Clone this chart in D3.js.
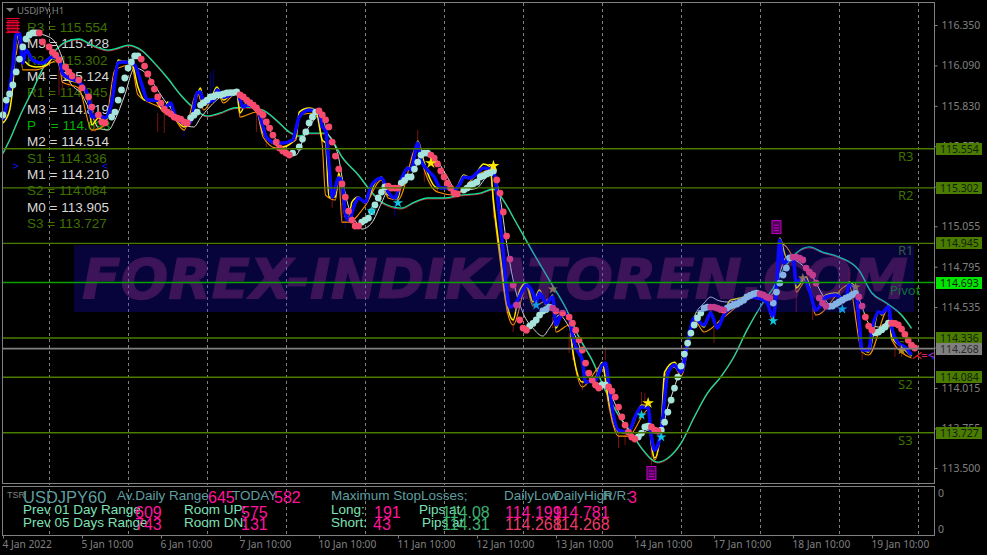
<!DOCTYPE html>
<html><head><meta charset="utf-8">
<script src="https://cdn.jsdelivr.net/npm/d3@7"></script>
<style>
html,body{margin:0;padding:0;background:#000;overflow:hidden}
svg{display:block}
text{font-family:"Liberation Sans",Arial,sans-serif}
.tick text,.ui{font-family:"Noto Sans","DejaVu Sans",sans-serif}
</style></head><body><svg id="c" width="987" height="555"></svg>
<script>
// ---------- data: [hourly bar number, price] ----------
const priceTicks=[116.35,116.09,115.83,115.57,115.31,115.055,114.795,114.535,114.275,114.015,113.755,113.5];
const timeTickBars=[0,24,48,72,96,120,144,168,192,216,240,264];
const timeTickLabels=["4 Jan 2022","5 Jan 10:00","6 Jan 10:00","7 Jan 10:00","10 Jan 10:00","11 Jan 10:00","12 Jan 10:00","13 Jan 10:00","14 Jan 10:00","17 Jan 10:00","18 Jan 10:00","19 Jan 10:00"];
const gridBars=[14,38,62,86,110,134,158,182,206,230,254,278];
const levelNames=["R3","R2","R1","Pivot","S1","S2","S3"];
const levelValues=[115.554,115.302,114.945,114.693,114.336,114.084,113.727];
const lastPrice=114.268;
const listNames=["R3","M5","R2","M4","R1","M3","P ","M2","S1","M1","S2","M0","S3"];
const listValues=["115.554","115.428","115.302","115.124","114.945","114.819","114.693","114.514","114.336","114.210","114.084","113.905","113.727"];

const blue=[[0,115.739],[1,115.822],[2,115.932],[3,116.08],[4,116.286],[5,116.299],[6,116.106],[7,116.189],[9,116.125],[12,116.106],[15,116.144],[17,116.144],[18,116.041],[20,116.009],[23,115.983],[26,115.887],[27,115.758],[29,115.771],[31,115.752],[33,115.848],[35,116.106],[36,116.112],[39,116.106],[40,116.093],[42,115.977],[44,115.867],[47,115.867],[49,115.816],[51,115.848],[52,115.784],[55,115.72],[57,115.726],[59,115.913],[60,115.919],[61,115.848],[64,115.867],[65,115.932],[67,115.887],[69,115.9],[71,115.919],[73,115.822],[74,115.835],[77,115.816],[79,115.694],[80,115.629],[83,115.591],[85,115.591],[88,115.61],[90,115.758],[93,115.803],[96,115.79],[97,115.694],[98,115.674],[99,115.462],[100,115.243],[102,115.366],[103,115.333],[104,115.14],[105,115.095],[107,115.205],[108,115.237],[110,115.211],[112,115.321],[115,115.366],[117,115.275],[119,115.237],[121,115.353],[123,115.43],[124,115.417],[126,115.591],[127,115.481],[129,115.417],[131,115.372],[133,115.301],[135,115.301],[137,115.288],[139,115.333],[140,115.372],[142,115.366],[144,115.398],[146,115.43],[149,115.417],[150,115.288],[151,115.095],[152,114.883],[153,114.645],[154,114.535],[156,114.568],[158,114.645],[159,114.677],[161,114.626],[162,114.568],[163,114.626],[165,114.561],[167,114.6],[168,114.42],[170,114.497],[172,114.471],[173,114.355],[174,114.278],[176,114.194],[177,114.053],[180,114.066],[182,114.162],[183,114.175],[184,114.046],[185,113.892],[187,113.744],[190,113.731],[192,113.828],[194,113.892],[196,113.886],[197,113.699],[198,113.615],[200,113.744],[202,114.111],[204,114.162],[206,114.117],[208,114.304],[210,114.465],[213,114.42],[215,114.497],[217,114.4],[219,114.484],[221,114.535],[224,114.58],[228,114.6],[232,114.568],[234,114.471],[235,114.664],[236,114.967],[237,114.819],[240,114.857],[241,114.69],[243,114.722],[245,114.645],[247,114.516],[250,114.6],[253,114.613],[256,114.58],[257,114.677],[259,114.645],[260,114.471],[261,114.259],[263,114.259],[264,114.387],[266,114.503],[267,114.497],[269,114.535],[270,114.407],[272,114.304],[274,114.278],[276,114.227]];

const yellow=[[0,115.72],[2,115.8],[3,115.96],[4,116.24],[5,116.3],[6,116.125],[7,116.11],[8,116.09],[10,116.08],[13,116.09],[16,116.157],[18,116.03],[20,115.996],[23,115.977],[26,115.848],[27,115.707],[29,115.752],[31,115.726],[33,115.867],[35,116.125],[36,116.118],[39,116.112],[41,115.951],[43,115.867],[46,115.867],[49,115.79],[50,115.855],[52,115.771],[55,115.694],[57,115.739],[60,115.945],[61,115.835],[63,115.867],[65,115.951],[67,115.867],[69,115.9],[71,115.932],[72,115.784],[74,115.848],[77,115.816],[79,115.655],[83,115.578],[85,115.565],[89,115.629],[90,115.79],[93,115.816],[95,115.803],[97,115.61],[98,115.591],[99,115.243],[101,115.243],[102,115.398],[103,115.288],[104,115.115],[105,115.108],[106,115.211],[108,115.243],[110,115.205],[113,115.333],[115,115.372],[117,115.256],[120,115.237],[121,115.34],[123,115.436],[124,115.43],[126,115.604],[128,115.462],[129,115.398],[132,115.301],[135,115.301],[137,115.275],[140,115.385],[142,115.366],[144,115.404],[146,115.456],[148,115.436],[149,115.224],[151,114.883],[153,114.568],[155,114.452],[157,114.645],[159,114.69],[161,114.568],[163,114.645],[165,114.548],[167,114.613],[168,114.4],[170,114.497],[172,114.452],[173,114.272],[176,114.053],[180,114.085],[182,114.181],[184,113.937],[187,113.731],[190,113.725],[194,113.905],[196,113.892],[197,113.66],[198,113.564],[200,113.789],[201,114.117],[204,114.181],[206,114.117],[208,114.31],[210,114.471],[213,114.407],[215,114.503],[217,114.4],[219,114.497],[221,114.58],[224,114.593],[228,114.613],[232,114.58],[234,114.465],[235,114.709],[236,114.98],[238,114.857],[240,114.87],[241,114.658],[244,114.729],[247,114.516],[250,114.613],[253,114.626],[256,114.58],[257,114.696],[259,114.658],[261,114.272],[263,114.246],[266,114.503],[267,114.484],[269,114.542],[270,114.342],[273,114.278],[276,114.22]];

const orange=[[4,116.157],[5,116.254],[6,116.061],[10,116.061],[17,116.125],[18,115.983],[23,115.945],[27,115.674],[31,115.707],[34,116.061],[39,116.093],[41,115.9],[48,115.816],[52,115.752],[55,115.674],[59,115.919],[61,115.803],[65,115.919],[67,115.848],[71,115.913],[72,115.758],[77,115.79],[79,115.629],[83,115.559],[89,115.61],[90,115.771],[95,115.784],[97,115.578],[98,115.256],[101,115.224],[102,115.366],[103,115.082],[105,115.082],[110,115.185],[115,115.353],[117,115.237],[120,115.224],[126,115.578],[128,115.417],[132,115.275],[137,115.256],[144,115.385],[148,115.417],[149,115.192],[151,114.838],[153,114.529],[155,114.42],[159,114.664],[161,114.542],[167,114.593],[168,114.375],[172,114.42],[173,114.259],[176,114.021],[182,114.162],[184,113.905],[187,113.705],[190,113.705],[196,113.873],[197,113.635],[198,113.551],[200,113.757],[201,114.091],[204,114.149],[206,114.091],[210,114.452],[213,114.375],[219,114.471],[228,114.593],[232,114.561],[234,114.439],[236,114.947],[240,114.851],[241,114.632],[244,114.709],[247,114.484],[257,114.677],[261,114.246],[263,114.227],[269,114.523],[270,114.323],[276,114.207]];

const whiteLine=[[9,116.299],[14,116.273],[16,116.234],[18,116.138],[20,115.996],[24,115.9],[27,115.771],[29,115.687],[32,115.674],[34,115.739],[37,115.9],[40,116.073],[43,116.048],[46,115.964],[49,115.867],[52,115.79],[55,115.707],[58,115.694],[60,115.752],[70,115.919],[75,115.835],[80,115.707],[83,115.61],[86,115.513],[89,115.513],[92,115.662],[94,115.726],[97,115.784],[98,115.687],[100,115.61],[102,115.494],[103,115.372],[105,115.179],[108,115.063],[109,115.037],[112,115.076],[115,115.205],[117,115.288],[119,115.301],[125,115.417],[127,115.513],[131,115.494],[135,115.372],[138,115.275],[141,115.288],[144,115.301],[147,115.372],[149,115.385],[151,115.243],[153,114.947],[155,114.709],[158,114.497],[161,114.4],[164,114.349],[166,114.4],[169,114.484],[172,114.407],[175,114.291],[177,114.111],[180,114.053],[183,114.021],[190,113.744],[193,113.693],[196,113.744],[198,113.725],[200,113.744],[202,113.892],[205,114.085],[208,114.304],[210,114.471],[213,114.561],[215,114.6],[217,114.58],[220,114.568],[224,114.58],[229,114.6],[232,114.593],[234,114.626],[236,114.754],[238,114.857],[242,114.819],[246,114.729],[249,114.613],[252,114.535],[256,114.58],[259,114.632],[261,114.535],[263,114.432],[266,114.407],[269,114.439],[272,114.407],[276,114.304]];

const movingAvg=[[0,115.526],[2,115.61],[5,115.758],[9,115.932],[13,116.106],[16,116.189],[19,116.241],[23,116.26],[27,116.221],[32,116.189],[35,116.202],[38,116.221],[42,116.189],[46,116.106],[50,116.009],[54,115.9],[58,115.816],[62,115.765],[66,115.784],[70,115.816],[74,115.822],[79,115.803],[83,115.739],[87,115.662],[90,115.636],[93,115.655],[98,115.655],[100,115.61],[103,115.501],[108,115.385],[111,115.301],[115,115.211],[121,115.172],[125,115.211],[129,115.237],[134,115.237],[139,115.256],[145,115.269],[149,115.295],[152,115.224],[156,115.076],[161,114.889],[166,114.709],[171,114.529],[175,114.342],[179,114.194],[183,114.001],[187,113.84],[191,113.725],[194,113.628],[199,113.538],[202,113.564],[206,113.66],[210,113.828],[214,113.982],[218,114.085],[222,114.214],[226,114.387],[231,114.568],[234,114.658],[237,114.774],[241,114.883],[245,114.922],[249,114.889],[254,114.857],[260,114.774],[264,114.626],[268,114.568],[273,114.484],[276,114.4]];

const riseDots=[[0,115.771],[1,115.867],[2,115.906],[3,115.964],[4,116.048],[5,116.131],[6,116.209],[7,116.26],[8,116.286],[9,116.299],[10,116.299],
[33,115.758],[34,115.79],[35,115.867],[36,115.932],[37,116.009],[38,116.073],[39,116.112],[40,116.151],[41,116.151],
[57,115.752],[58,115.77],[59,115.79],[60,115.835],[61,115.85],[62,115.867],[63,115.887],[64,115.89],[65,115.9],[66,115.9],[67,115.906],[68,115.913],[69,115.915],[70,115.915],[71,115.919],
[88,115.526],[90,115.565],[91,115.616],[92,115.662],[93,115.72],[94,115.758],[95,115.79],
[109,115.082],[110,115.095],[111,115.108],[112,115.15],[113,115.192],[114,115.237],[115,115.275],[116,115.308],
[121,115.333],[122,115.35],[123,115.372],[124,115.372],[125,115.423],[126,115.468],[127,115.513],[128,115.526],[129,115.526],
[140,115.288],[141,115.301],[142,115.321],[143,115.33],[144,115.34],[145,115.372],[146,115.38],[147,115.392],[148,115.4],[149,115.411],
[160,114.413],[161,114.43],[162,114.452],[163,114.484],[164,114.51],[165,114.52],[166,114.535],
[182,114.034],[183,114.034],
[193,113.7],[194,113.725],[195,113.764],[196,113.77],
[200,113.744],[201,113.795],[202,113.86],[203,113.937],[204,114.014],[205,114.085],[206,114.156],[207,114.233],[208,114.304],[209,114.368],[210,114.42],[211,114.465],[212,114.497],[213,114.529],[214,114.535],
[220,114.529],[221,114.54],[222,114.548],[223,114.555],[224,114.568],[225,114.58],[226,114.6],[227,114.61],[228,114.62],[229,114.625],
[234,114.561],[235,114.632],[236,114.69],[237,114.741],[238,114.786],[239,114.851],
[251,114.54],[252,114.542],[253,114.555],[254,114.568],[255,114.58],[256,114.593],[257,114.6],[258,114.615],[259,114.625],
[265,114.37],[266,114.375],[267,114.39],[268,114.407],[269,114.432]];

const fallDots=[[11,116.299],[12,116.241],[14,116.209],[15,116.176],[16,116.157],[17,116.125],[19,116.08],[20,116.048],[21,116.022],[23,115.996],[24,115.945],[26,115.887],[27,115.822],[29,115.771],[30,115.726],[31,115.72],
[42,116.131],[43,116.086],[44,116.035],[45,115.983],[46,115.938],[47,115.887],[48,115.848],[49,115.809],[50,115.79],[51,115.777],[52,115.758],[53,115.75],[54,115.745],[55,115.726],[56,115.72],
[72,115.9],[73,115.887],[74,115.867],[75,115.85],[76,115.835],[77,115.816],[78,115.79],[79,115.771],[80,115.726],[81,115.687],[82,115.642],[83,115.597],[84,115.559],[85,115.54],[86,115.526],[87,115.513],
[96,115.797],[97,115.771],[98,115.739],[99,115.694],[100,115.597],[101,115.507],[102,115.423],[103,115.327],[104,115.243],[105,115.153],[106,115.095],[107,115.057],[108,115.057],
[117,115.314],[118,115.301],[119,115.301],[120,115.301],
[130,115.513],[131,115.494],[132,115.456],[133,115.411],[134,115.372],[135,115.333],[136,115.301],[137,115.269],[138,115.263],
[150,115.353],[151,115.269],[152,115.147],[153,114.992],[154,114.844],[155,114.677],[156,114.548],[157,114.452],[158,114.4],[159,114.387],
[167,114.529],[168,114.51],[170,114.497],[172,114.471],[173,114.432],[174,114.387],[175,114.323],[176,114.259],[177,114.175],[178,114.111],[179,114.066],[180,114.034],[181,114.014],
[184,114.021],[185,113.995],[186,113.956],[187,113.892],[188,113.828],[189,113.776],[190,113.731],[191,113.699],[192,113.686],
[197,113.764],[198,113.744],[199,113.738],
[215,114.535],[216,114.535],[217,114.529],[218,114.52],[219,114.516],
[230,114.62],[231,114.613],[232,114.6],[233,114.593],
[240,114.857],[241,114.857],[242,114.85],[243,114.838],[244,114.786],[245,114.76],[246,114.741],[247,114.69],[248,114.593],[249,114.561],[250,114.542],
[260,114.6],[261,114.542],[262,114.471],[263,114.413],[264,114.387],
[270,114.432],[271,114.43],[272,114.42],[273,114.394],[274,114.36],[275,114.323],[276,114.291],[277,114.272]];

// [bar, low, high]
const redWicks=[[17,115.9,116.106],[18,115.932,116.061],[20,115.951,116.016],[27,115.662,115.867],[28,115.662,115.784],[47,115.662,115.784],[49,115.655,115.784],[72,115.752,115.816],[77,115.662,115.803],[79,115.655,115.758],[80,115.565,115.629],[84,115.533,115.61],[99,115.308,115.591],[100,115.173,115.308],[103,115.076,115.205],[126,115.565,115.674],[128,115.34,115.417],[132,115.269,115.353],[149,115.108,115.288],[151,114.838,114.947],[153,114.497,114.6],[155,114.375,114.471],[167,114.4,114.471],[172,114.239,114.368],[173,114.194,114.304],[176,114.001,114.066],[183,114.194,114.278],[185,113.789,113.892],[187,113.628,113.744],[189,113.647,113.725],[194,113.892,113.989],[195,113.886,113.982],[197,113.519,113.68],[216,114.304,114.4],[241,114.503,114.69],[246,114.452,114.535],[257,114.664,114.786],[259,114.471,114.516],[261,114.194,114.259],[269,114.4,114.516],[271,114.214,114.304],[273,114.214,114.278]];
const blueWicks=[[4,116.041,116.138],[55,115.629,115.72],[63,115.887,116.041],[64,115.951,116.061],[104,115.044,115.115],[119,115.115,115.205],[124,115.417,115.546],[200,113.68,113.808],[208,114.336,114.387]];

const brightStars=[[149,115.443],[196,113.918],[130,115.462]];
const dimStars=[[167,114.651],[243,114.722],[259,114.664],[273,114.259]];
const cyanStars=[[234,114.446],[255,114.522],[194,113.84],[200,113.699],[112,115.153],[120,115.205],[162,114.548]];
const docIcons=[[235,115.05],[197,113.468]];
const stackedIcon=[3,116.34];

const dailyRange="645",todayRange="582",prev01="609",prev05="743",roomUp="575",roomDn="131";
const stopLong="191",stopShort="43",pipsLong="114.08",pipsShort="114.31";
const dayLow1="114.199",dayHigh1="114.781",dayLow2="114.268",dayHigh2="114.268",rr="3";

// ---------- scales ----------
const svg=d3.select("#c");
const x=d3.scaleLinear().domain([0,283]).range([3,934.5]);
const y=d3.scaleLinear().domain([113.5,116.35]).range([468,25]);
const grey="#808080",olive="#4a7c00";

// watermark lettering (tinted by the translucent band drawn after the lines)
svg.append("text").text("FOREX-INDIKATOREN.COM").attr("x",82).attr("y",298)
  .style("font-family","'DejaVu Sans',sans-serif").attr("font-size",56).attr("font-weight","bold").attr("font-style","italic")
  .attr("textLength",826).attr("lengthAdjust","spacingAndGlyphs").attr("fill","#481528")
  .attr("stroke","#481528").attr("stroke-width",1.2);

// grid
svg.append("g").selectAll("line").data(gridBars).join("line")
  .attr("x1",d=>Math.round(x(d))+.5).attr("x2",d=>Math.round(x(d))+.5).attr("y1",3).attr("y2",535)
  .attr("stroke",grey).attr("stroke-dasharray","3,3");

// left list
const list=svg.append("g");
listNames.forEach((n,i)=>{
  const c=n[0]==="M"?"#d8d8d8":n[0]==="P"?"#00b400":"#3f7000";
  list.append("text").attr("x",27).attr("y",32+i*16.33).attr("font-size",13.5).attr("fill",c)
    .style("white-space","pre").text(n+(n==="P "?"  ":"")+" = "+listValues[i]);
});

// level names at right
const nameX={R3:898,R2:898,R1:898,Pivot:890,S1:898,S2:898,S3:898};
levelNames.forEach((n,i)=>{
  svg.append("text").text(n).attr("x",nameX[n]).attr("y",y(levelValues[i])+12).attr("font-size",13)
    .attr("fill",n==="Pivot"?"#0c8a00":"#3f7000").attr("class","ui");
});

// wicks
const wicks=(data,col)=>svg.append("g").selectAll("line").data(data).join("line")
  .attr("x1",d=>x(d[0])).attr("x2",d=>x(d[0])).attr("y1",d=>y(d[1])).attr("y2",d=>y(d[2])).attr("stroke",col);
wicks(redWicks,"#7a1414"); wicks(blueWicks,"#00008c");

// lines
const gen=d3.line().x(d=>x(d[0])).y(d=>y(d[1])).curve(d3.curveMonotoneX);
const path=(data,col,w,dy)=>svg.append("path").datum(data).attr("d",gen(data)).attr("fill","none")
  .attr("stroke",col).attr("stroke-width",w).attr("stroke-linejoin","round").attr("transform",dy?`translate(0,${dy})`:null);
path(movingAvg,"#e02040",1,.9);
path(movingAvg,"#0de69a",1.3);
path(whiteLine,"#d8d8d8",1);
path(orange,"#ff9000",1.1);
path(yellow,"#ffee00",1.5);
path(blue,"#0808ff",3.6);

// dots
const dots=(data,col)=>svg.append("g").selectAll("circle").data(data).join("circle")
  .attr("cx",d=>x(d[0])).attr("cy",d=>y(d[1])).attr("r",3.4).attr("fill",col);
dots(riseDots,"#a6e4dc"); dots(fallDots,"#f84a6c");

// stars
const star=(data,col,size)=>svg.append("g").selectAll("path").data(data).join("path")
  .attr("d",d3.symbol(d3.symbolStar,size)).attr("fill",col)
  .attr("transform",d=>`translate(${x(d[0])},${y(d[1])})`);
star(cyanStars,"#10c8e0",32); star(dimStars,"#b08a30",32); star(brightStars,"#ffe600",42);

// translucent band over the lines
svg.append("rect").attr("x",74).attr("y",245).attr("width",840).attr("height",67).attr("fill","#1a10ff").attr("opacity",.23);

// levels
svg.append("g").selectAll("line").data(levelValues).join("line")
  .attr("x1",3).attr("x2",934).attr("y1",d=>y(d)).attr("y2",d=>y(d)).attr("stroke-width",1.4)
  .attr("stroke",(d,i)=>levelNames[i]==="Pivot"?"#0aa000":olive);
svg.append("line").attr("x1",3).attr("x2",934).attr("y1",y(lastPrice)).attr("y2",y(lastPrice)).attr("stroke",grey).attr("stroke-width",1.6);

// document icons
const doc=(d,col,fill)=>{
  const g=svg.append("g").attr("transform",`translate(${x(d[0])},${y(d[1])})`);
  g.append("rect").attr("x",-4.5).attr("y",-6.5).attr("width",9).attr("height",13).attr("fill",fill).attr("stroke",col);
  [-2,1,3.5].forEach(k=>g.append("line").attr("x1",-2.5).attr("x2",2.5).attr("y1",k).attr("y2",k).attr("stroke",col));
};
docIcons.forEach(d=>doc(d,"#c000c0","#50005a"));
{ const g=svg.append("g").attr("transform",`translate(${x(stackedIcon[0])},${y(stackedIcon[1])})`);
  g.append("rect").attr("x",-5).attr("y",-6).attr("width",10).attr("height",11).attr("fill","#600018").attr("stroke","#e00030");
  [-8,-4,-1,2,6].forEach(k=>g.append("line").attr("x1",-7).attr("x2",7).attr("y1",k).attr("y2",k).attr("stroke","#f00030"));
}

// small chevrons and end-of-line markers
const mark=(s,bar,price,col)=>svg.append("text").text(s).attr("x",x(bar)).attr("y",y(price)+4).attr("font-size",11).attr("fill",col).attr("class","ui");
mark(">",3,115.443,"#1010ff"); mark("<",30,115.443,"#1010ff");
mark("\u22CC",276,114.227,"#ff2020"); mark("=",279,114.227,"#e0206a"); mark("<",281,114.227,"#c030ff"); mark("<",282,114.21,"#2020ff");

// frames
const fr=(a,b,c,d)=>svg.append("rect").attr("x",a+.5).attr("y",b+.5).attr("width",c-a).attr("height",d-b).attr("fill","none").attr("stroke",grey);
svg.append("rect").attr("x",935).attr("y",0).attr("width",52).attr("height",555).attr("fill","#000");
svg.append("rect").attr("x",0).attr("y",485).attr("width",935).attr("height",2).attr("fill","#000");
fr(2,2,934,483); fr(2,486,934,535);

// axes
const yAxis=svg.append("g").attr("transform","translate(934.5,0)").call(d3.axisRight(y).tickValues(priceTicks).tickFormat(d3.format(".3f")).tickSize(3));
yAxis.select(".domain").remove();
yAxis.selectAll(".tick line").attr("stroke",grey);
yAxis.selectAll("text").attr("x",7).attr("fill",grey).attr("font-size",10.5);
const xAxis=svg.append("g").attr("transform","translate(0,535.5)").call(d3.axisBottom(x).tickValues(timeTickBars).tickFormat((d,i)=>timeTickLabels[i]).tickSize(3));
xAxis.select(".domain").remove();
xAxis.selectAll(".tick line").attr("stroke",grey);
xAxis.selectAll("text").attr("fill",grey).attr("font-size",10.2).attr("text-anchor","start").attr("x",-1).attr("y",5);
svg.append("text").text("0").attr("x",938).attr("y",497).attr("font-size",10.5).attr("fill",grey).attr("class","ui");
svg.append("text").text("0").attr("x",938).attr("y",533).attr("font-size",10.5).attr("fill",grey).attr("class","ui");

// level value boxes
const box=(v,bg,fg)=>{
  const c=Math.round(y(v));
  svg.append("rect").attr("x",936).attr("y",c-6).attr("width",46).attr("height",12).attr("fill",bg);
  svg.append("text").text(v.toFixed(3)).attr("x",940).attr("y",c+4).attr("font-size",10.5).attr("fill",fg).attr("class","ui");
};
levelValues.forEach((v,i)=>box(v,levelNames[i]==="Pivot"?"#00e600":"#4a7c00","#15200a"));
box(lastPrice,"#808080","#2a2a2a");

// title
svg.append("path").attr("d","M6 8h8l-4 4z").attr("fill",grey);
svg.append("text").text("USDJPY,H1").attr("x",17).attr("y",14).attr("font-size",9.5).attr("fill",grey).attr("class","ui");

// bottom panel
const t=(s,px,py,size,col)=>svg.append("text").text(s).attr("x",px).attr("y",py).attr("font-size",size).attr("fill",col);
const cad="#5f9ea0",aqua="#7fe0b8",pink="#ff149b",sea="#3cb371",crim="#e83c64";
t("TSR",7,498,9,grey);
t("USDJPY60",23,503,16.5,cad);
t("Av.Daily Range",117,500,13.5,cad); t(dailyRange,208,503,16,pink);
t("TODAY",232,500,13.5,cad); t(todayRange,274,503,16,pink);
t("Prev 01 Day Range",23,514,13.5,aqua); t(prev01,135,518,16,pink);
t("Room UP:",184,514,13.5,aqua); t(roomUp,241,518,16,pink);
t("Prev 05 Days Range",23,527,13.5,aqua); t(prev05,135,530,16,pink);
t("Room DN:",184,527,13.5,aqua); t(roomDn,241,530,16,pink);
t("Maximum StopLosses;",331,500,13.5,cad);
t("Long:",331,514,13.5,aqua); t(stopLong,374,518,16,pink);
t("Short:",331,527,13.5,aqua); t(stopShort,373,530,16,pink);
t("Pips at",419,514,13.5,aqua); t(pipsLong,442,518,16,sea);
t("Pips at",422,527,13.5,aqua); t(pipsShort,442,530,16,sea);
t("DailyLow",504,500,13.5,cad); t("DailyHigh",554,500,13.5,cad); t("R/R:",603,500,13.5,cad); t(rr,628,503,16,pink);
t(dayLow1,505,518,16,pink); t(dayHigh1,553,518,16,pink);
t(dayLow2,505,530,16,crim); t(dayHigh2,553,530,16,crim);
</script></body></html>
